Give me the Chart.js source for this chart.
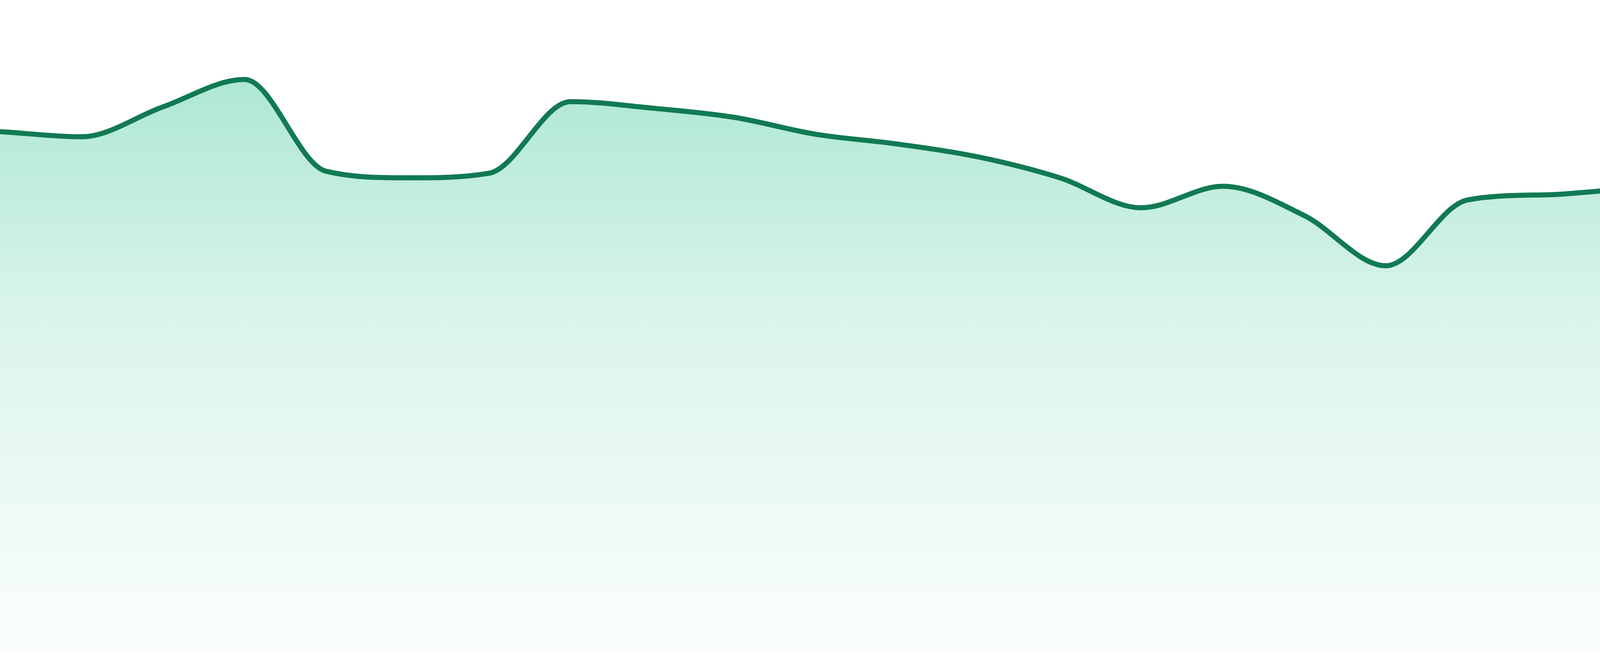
<!DOCTYPE html>
<html>
<head>
<meta charset="utf-8">
<title>Sparkline</title>
<script src="https://cdn.jsdelivr.net/npm/chart.js@4.4.1/dist/chart.umd.min.js"></script>
<style>
    html, body {
        margin: 0;
        padding: 0;
        background: #ffffff;
    }
    #wrap {
        width: 4800px;
        height: 1680px;
    }
</style>
</head>
<body>
<div id="wrap">
    <canvas id="trendChart" width="4800" height="1680"></canvas>
</div>
<script>
// Hourly points (24) - no labels shown on the chart
const hours = ['00:00', '01:00', '02:00', '03:00', '04:00', '05:00', '06:00', '07:00',
               '08:00', '09:00', '10:00', '11:00', '12:00', '13:00', '14:00', '15:00',
               '16:00', '17:00', '18:00', '19:00', '20:00', '21:00', '22:00', '23:00'];

// Values (scale 0 - 100)
const values = [79.8, 79.0, 83.6, 87.8, 73.7, 72.7, 73.4, 84.4,
                83.4, 82.0, 79.4, 77.9, 75.9, 72.7, 68.1, 71.4,
                66.9, 59.2, 69.3, 70.1, 70.9, 69.5, 74.0, 74.8];

const yMin = 0;
const yMax = 100;

function initChart() {
    const ctx = document.getElementById('trendChart').getContext('2d');

    new Chart(ctx, {
        type: 'line',
        data: {
            labels: hours,
            datasets: [{
                data: values,
                borderColor: '#117a52',
                borderWidth: 13,
                pointRadius: 0,
                pointHoverRadius: 0,
                cubicInterpolationMode: 'monotone',
                fill: 'origin',
                backgroundColor: (context) => {
                    const area = context.chart.chartArea;
                    if (!area) return 'rgba(16, 185, 129, 0.2)';
                    // Fade from mint at the top to almost white at the bottom
                    const g = context.chart.ctx.createLinearGradient(0, area.top, 0, area.bottom);
                    g.addColorStop(0, 'rgba(16, 185, 129, 0.40)');
                    g.addColorStop(0.5, 'rgba(16, 185, 129, 0.15)');
                    g.addColorStop(1, 'rgba(16, 185, 129, 0.02)');
                    return g;
                }
            }]
        },
        options: {
            responsive: false,
            animation: false,
            devicePixelRatio: 1,
            layout: {
                padding: { top: 0, left: 0, right: 0, bottom: 12 }
            },
            plugins: {
                legend: { display: false },
                tooltip: { enabled: false }
            },
            scales: {
                x: {
                    display: false,
                    offset: false
                },
                y: {
                    display: false,
                    min: yMin,
                    max: yMax
                }
            }
        }
    });
}

document.addEventListener('DOMContentLoaded', () => {
    initChart();
});
</script>
</body>
</html>
